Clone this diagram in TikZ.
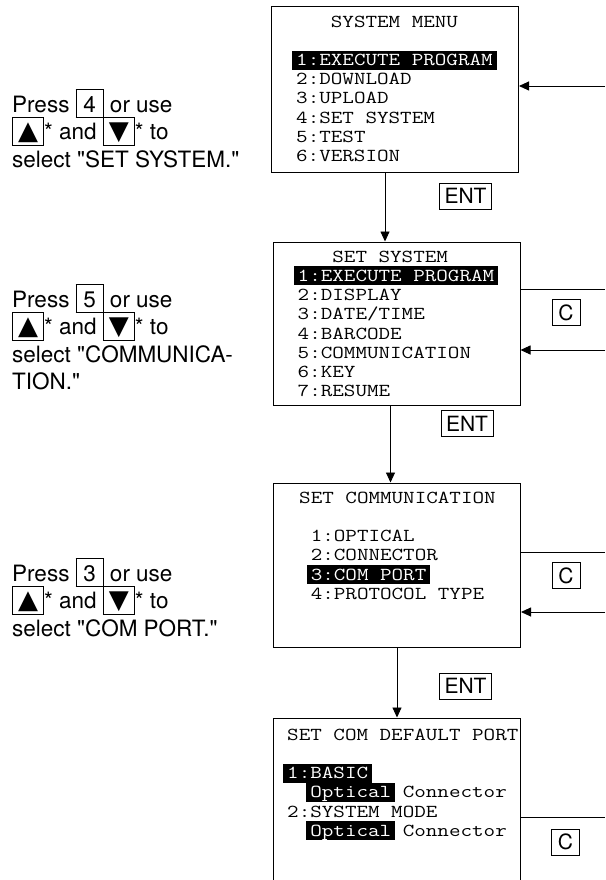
\documentclass[tikz,border=0pt]{standalone}
\usepackage{fontspec}
\usepackage{xcolor}
\setmainfont{TeX Gyre Heros}[Ligatures=TeXOff]
\newfontfamily\screenfont{Latin Modern Mono}[FakeStretch=1.23]
\newfontfamily\symbolfont{DejaVu Sans}
\usepackage{tikz}
\usetikzlibrary{arrows.meta,positioning}

% black bar behind a selected menu entry
\newcommand{\hilite}[1]{\hspace*{-4pt}{\setlength{\fboxsep}{0pt}\colorbox{black}{\rule[-4pt]{0pt}{19pt}\hspace{4pt}\textcolor{white}{#1}\hspace{4pt}}}\hspace*{-4pt}}
% framed key of the keypad
\newcommand{\keycap}[2]{{\setlength{\fboxsep}{0pt}\setlength{\fboxrule}{0.8pt}\framebox{\makebox[#1]{\rule[-5pt]{0pt}{27pt}#2}}}}
\newcommand{\keyup}{\keycap{30.4pt}{\symbolfont\fontsize{26}{26}\selectfont ▲}}
\newcommand{\keydown}{\keycap{30.4pt}{\symbolfont\fontsize{26}{26}\selectfont ▼}}

\begin{document}
\setlength{\lineskiplimit}{-10pt}
\begin{tikzpicture}[
    x=1pt, y=-1pt,
    screen/.style={draw, line width=1pt, minimum width=247pt, inner sep=0pt},
    menu/.style={anchor=north west, align=left, inner sep=0pt, font=\screenfont\fontsize{18.25}{19.2}\selectfont},
    hint/.style={anchor=north west, align=left, inner sep=0pt, font=\fontsize{22.5}{27.5}\selectfont},
    keybox/.style={draw, line width=0.8pt, minimum height=26pt, inner xsep=5pt, inner ysep=0pt, font=\fontsize{21}{21}\selectfont},
    line/.style={-{Triangle[length=10pt,width=9pt]}, line width=0.9pt},
    plain/.style={line width=0.9pt}
]
\useasboundingbox (0,0) rectangle (605,880);
\clip (0,0) rectangle (605,880);

% Screens of the terminal, top to bottom.
\node[screen, minimum height=165pt] (sysmenu) at (395,89.5) {};
\node[screen, minimum height=163pt] (setsys) at (396.5,323.5) {};
\node[screen, minimum height=164pt] (setcomm) at (397,565) {};
\node[screen, minimum height=200pt] (comport) at (397,818) {};

\node[menu] (sysmenutext) at ([xshift=25pt, yshift=-5.5pt]sysmenu.north west) {\rule{0pt}{15pt}\phantom{123}SYSTEM MENU\\[19.2pt]\hilite{1:EXECUTE PROGRAM}\\2:DOWNLOAD\\3:UPLOAD\\4:SET SYSTEM\\5:TEST\\6:VERSION};
\node[menu] (setsystext) at ([xshift=25pt, yshift=-5.5pt]setsys.north west) {\rule{0pt}{15pt}\phantom{123}SET SYSTEM\\\hilite{1:EXECUTE PROGRAM}\\2:DISPLAY\\3:DATE/TIME\\4:BARCODE\\5:COMMUNICATION\\6:KEY\\7:RESUME};
\node[menu] (setcommtext) at ([xshift=26pt, yshift=-5.5pt]setcomm.north west) {\rule{0pt}{15pt}SET COMMUNICATION\\[19.2pt]\phantom{1}1:OPTICAL\\\phantom{1}2:CONNECTOR\\\phantom{1}\hilite{3:COM PORT}\\\phantom{1}4:PROTOCOL TYPE};
\node[menu] (comporttext) at ([xshift=14pt, yshift=-7.5pt]comport.north west) {\rule{0pt}{15pt}SET COM DEFAULT PORT\\[19.2pt]\hilite{1:BASIC}\\\phantom{12}\hilite{Optical} Connector\\2:SYSTEM MODE\\\phantom{12}\hilite{Optical} Connector};

% Instructions on the left.
\node[hint] (hintsys) at (12,89.2) {Press \keycap{26.4pt}{4} or use\\\keyup* and \keydown* to\\select "SET SYSTEM."};
\node[hint] (hintcomm) at (12,284.2) {Press \keycap{26.4pt}{5} or use\\\keyup* and \keydown* to\\select "COMMUNICA-\\TION."};
\node[hint] (hintport) at (12,558.2) {Press \keycap{26.4pt}{3} or use\\\keyup* and \keydown* to\\select "COM PORT."};

% Keys beside the connectors.
\node[keybox] (entone) at (465.5,196) {ENT};
\node[keybox] (enttwo) at (467,423.5) {ENT};
\node[keybox] (entthree) at (465.5,686) {ENT};
\node[keybox, minimum width=28pt, inner xsep=0pt] (cone) at (566,312.5) {C};
\node[keybox, minimum width=28pt, inner xsep=0pt] (ctwo) at (566,575.5) {C};
\node[keybox, minimum width=28pt, inner xsep=0pt] (cthree) at (565.5,842) {C};

% Going down with ENT.
\draw[line] ([xshift=-10pt]sysmenu.south) -- ([xshift=-10pt]sysmenu.south |- setsys.north);
\draw[line] ([xshift=-6pt]setsys.south) -- ([xshift=-6pt]setsys.south |- setcomm.north);
\draw[line] (setcomm.south) -- (comport.north);

% Going back with C (lines run off the right edge).
\coordinate (back1) at (605,86);
\coordinate (cancel2) at (605,289);
\coordinate (back2) at (605,350);
\coordinate (cancel3) at (605,552);
\coordinate (back3) at (605,612);
\coordinate (cancel4) at (605,817);
\draw[line] (back1) -- (back1 -| sysmenu.east);
\draw[plain] (cancel2 -| setsys.east) -- (cancel2);
\draw[line] (back2) -- (back2 -| setsys.east);
\draw[plain] (cancel3 -| setcomm.east) -- (cancel3);
\draw[line] (back3) -- (back3 -| setcomm.east);
\draw[plain] (cancel4 -| comport.east) -- (cancel4);

\end{tikzpicture}
\end{document}
